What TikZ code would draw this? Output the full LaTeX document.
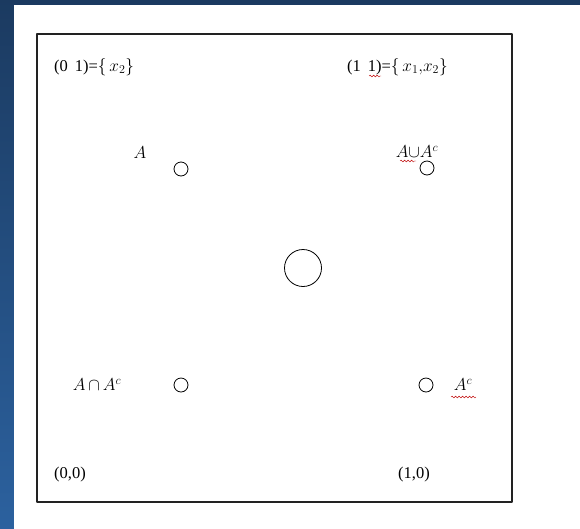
\documentclass[tikz,border=0pt]{standalone}
\usepackage{fontspec}
\setmainfont{Liberation Serif}
\usepackage{tikz}
\usetikzlibrary{decorations.pathmorphing}

\definecolor{bgtop}{HTML}{1B3A60}
\definecolor{bgbot}{HTML}{2C62A0}
\definecolor{frame}{HTML}{222222}

\begin{document}
\begin{tikzpicture}[x=1pt, y=-1pt, line join=round,
    font=\fontsize{16.5}{18}\selectfont,
    dot/.style={circle, draw=black, line width=0.8pt, minimum size=14pt,
      inner sep=0pt},
    lbl/.style={inner sep=0pt, anchor=west},
    setlbl/.style={font=\fontsize{18}{20}\selectfont},
    squiggle/.style={red!75!black, thin, decorate,
      decoration={snake, amplitude=0.9pt, segment length=3.5pt}}]

  %--- Page background and panel ------------------------------------------
  \useasboundingbox (0,0) rectangle (580,528);
  \shade[top color=bgtop, bottom color=bgbot] (-2,-2) rectangle (582,540);
  \fill[white] (14,5) rectangle (582,540);
  \draw[frame, line width=1.5pt] (37,34) rectangle (512,502);

  %--- Corner labels (points of the square) -------------------------------
  \node[lbl] (p01) at (54,67)  {(0\, 1)=$\{\,x_2\}$};
  \node[lbl] (p11) at (347,67) {(1\, 1)=$\{\,x_1{,}x_2\}$};
  \node[lbl] (p00) at (54,475)  {(0,0)};
  \node[lbl] (p10) at (398,475) {(1,0)};

  %--- Small circles (the four sets) --------------------------------------
  \node[dot] (cA) at (181,169) {};
  \node[dot] (cU) at (427,168) {};
  \node[dot] (cI) at (181,385) {};
  \node[dot] (cC) at (426,385) {};

  %--- Centre circle ------------------------------------------------------
  \node[dot, minimum size=37pt] (cM) at (303,268) {};

  %--- Set labels ---------------------------------------------------------
  \node[setlbl] (lA) at (140,153) {$A$};
  \node[setlbl] (lU) at (417,152) {$A{\cup}A^c$};
  \node[setlbl] (lI) at (97,385)  {$A\,{\cap}\,A^c$};
  \node[setlbl] (lC) at (463,385) {$A^c$};

  %--- Spell-check marks --------------------------------------------------
  \draw[squiggle] (369,76) -- (381,76);
  \draw[squiggle] (400,161) -- (416,161);
  \draw[squiggle] (451,397) -- (476,397);

\end{tikzpicture}
\end{document}
